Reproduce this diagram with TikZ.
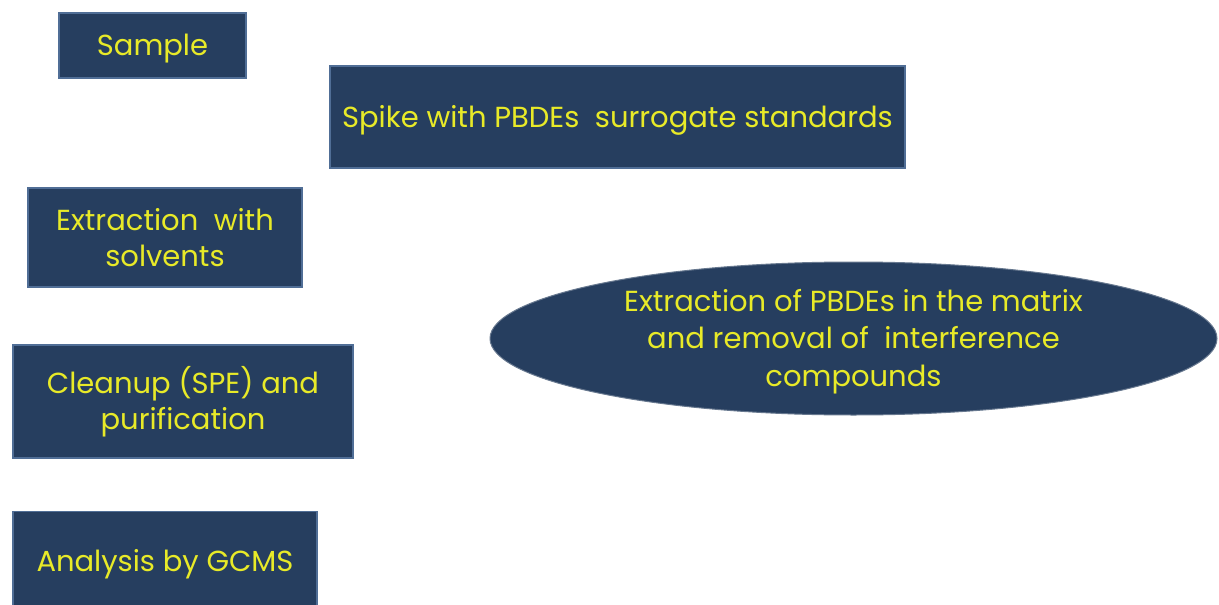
\documentclass[tikz,border=0pt]{standalone}
\usepackage{fontspec}
\setmainfont{Poppins}
\usetikzlibrary{shapes.geometric}
\definecolor{navy}{RGB}{38,62,95}
\definecolor{edge}{RGB}{80,110,150}
\definecolor{txt}{RGB}{232,234,40}
\tikzset{
  box/.style={draw=edge, line width=1.5pt, fill=navy, text=txt, align=center,
    inner sep=0pt, font=\fontsize{29}{36}\selectfont},
  oneline/.style={text height=20.5pt, text depth=0pt},
  lbl/.style={text=txt, align=center, inner sep=0pt, font=\fontsize{29}{37.5}\selectfont},
}
\begin{document}
\begin{tikzpicture}[x=1pt,y=-1pt]
\useasboundingbox (0,0) rectangle (1219,605);
\node[box, oneline, minimum width=187pt, minimum height=65pt] (sample) at (152.5,45.5) {Sample};
\node[box, oneline, minimum width=575pt, minimum height=102pt] (spike) at (617.5,117) {Spike with PBDEs\ \ surrogate standards};
\node[box, minimum width=274pt, minimum height=99pt] (extr) at (165,237.5) {Extraction\ \ with\\solvents};
\node[box, minimum width=340pt, minimum height=113pt] (clean) at (183,401.5) {Cleanup (SPE) and\\purification};
\begin{scope}
\clip (0,0) rectangle (1219,605);
\node[box, oneline, minimum width=304pt, minimum height=100pt] (gcms) at (165,561.5) {Analysis by GCMS};
\end{scope}
\node[ellipse, draw=navy!70!white, fill=navy, line width=1pt, minimum width=727pt, minimum height=153pt, inner sep=0pt] (ell) at (853.5,338.5) {};
\node[lbl] (elltext) at ([yshift=-3pt]ell.center) {Extraction of PBDEs in the matrix\\and removal of\ \ interference\\compounds};
\end{tikzpicture}
\end{document}
